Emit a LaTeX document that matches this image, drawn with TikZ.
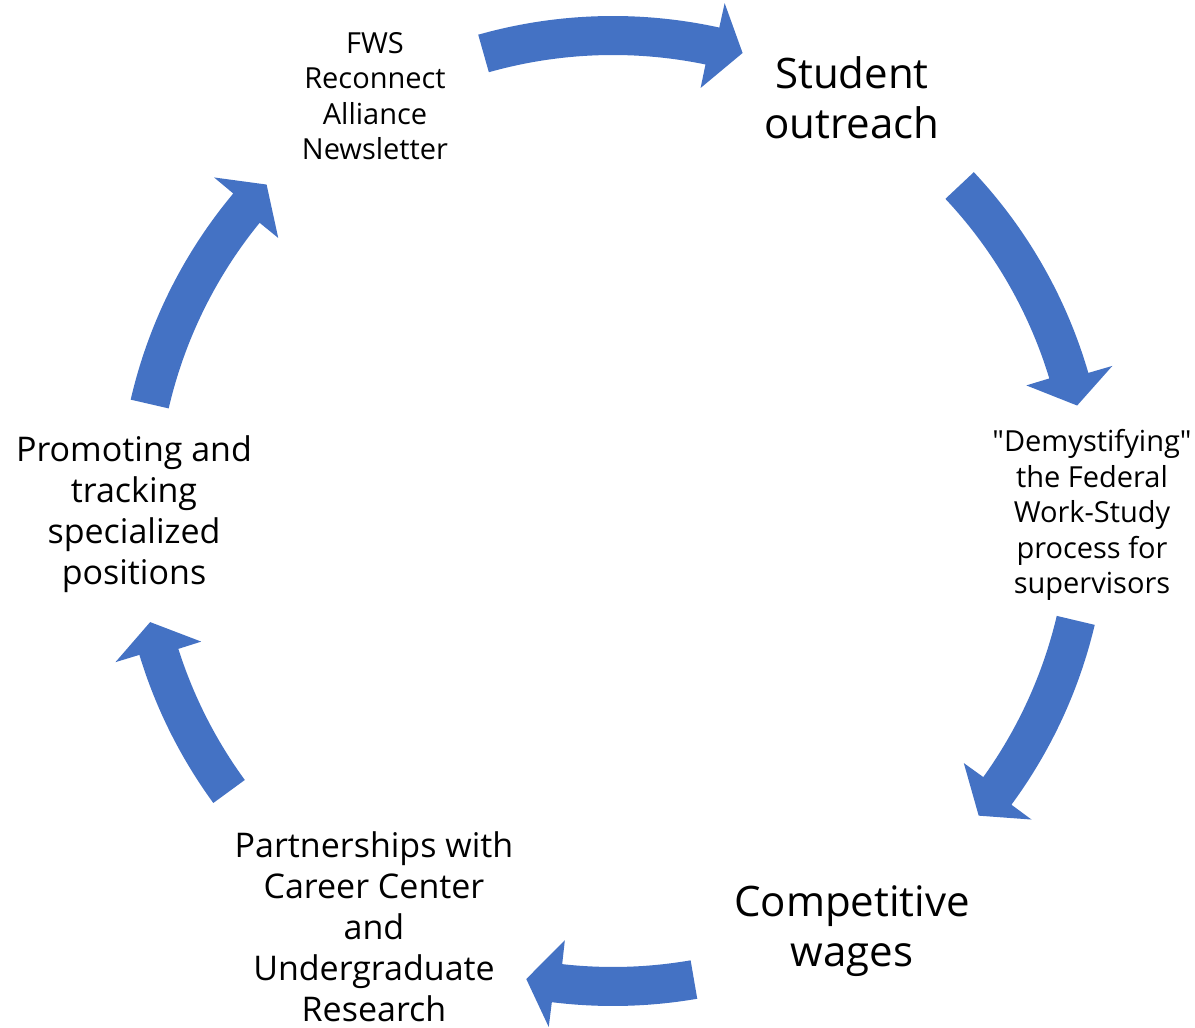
\documentclass[tikz,border=0pt]{standalone}
\usepackage{fontspec}
\setmainfont{Open Sans}[Ligatures=TeXOff]
\usetikzlibrary{calc}
\definecolor{arrowblue}{HTML}{4472C4}
\tikzset{
  cyclearrow/.style={fill=arrowblue, draw=none},
  bigtxt/.style={align=center, font=\fontsize{42}{50}\selectfont, inner sep=0pt},
  midtxt/.style={align=center, font=\fontsize{34}{41}\selectfont, inner sep=0pt},
  smalltxt/.style={align=center, font=\fontsize{29}{35.5}\selectfont, inner sep=0pt},
}
\newcommand\cycarrow[2]{%
  \fill[cyclearrow] ([shift={(#1:495pt)}]C)
    arc[start angle=#1, end angle={#2+3.4}, radius=495pt]
    -- ([shift={({#2+3.4}:520pt)}]C)
    -- ([shift={(#2:476pt)}]C)
    -- ([shift={({#2+4.1}:432pt)}]C)
    -- ([shift={({#2+4.1}:456pt)}]C)
    arc[start angle={#2+4.1}, end angle=#1, radius=456pt]
    -- cycle;}
\begin{document}
\begin{tikzpicture}[x=1pt,y=1pt]
\useasboundingbox (0,0) rectangle (1195,1028);
\coordinate (C) at (613,517);
% arrows
\cycarrow{105.8}{74.2}
\cycarrow{43.2}{12.8}
\cycarrow{-13.3}{-39.8}
\cycarrow{-80.2}{-100.5}
\cycarrow{-143.85}{-166.5}
\cycarrow{167}{136.7}
% text nodes
\node[smalltxt] (fws) at (375,932) {FWS\\Reconnect\\Alliance\\Newsletter};
\node[bigtxt] (outreach) at (852,930) {Student\\outreach};
\node[smalltxt] (demyst) at (1092,513) {"Demystifying"\\the Federal\\Work-Study\\process for\\supervisors};
\node[bigtxt] (wages) at (852,97) {Competitive\\wages};
\node[midtxt] (partner) at (374,101) {Partnerships with\\Career Center\\and\\Undergraduate\\Research};
\node[midtxt] (promo) at (134,514) {Promoting and\\tracking\\specialized\\positions};
\end{tikzpicture}
\end{document}
